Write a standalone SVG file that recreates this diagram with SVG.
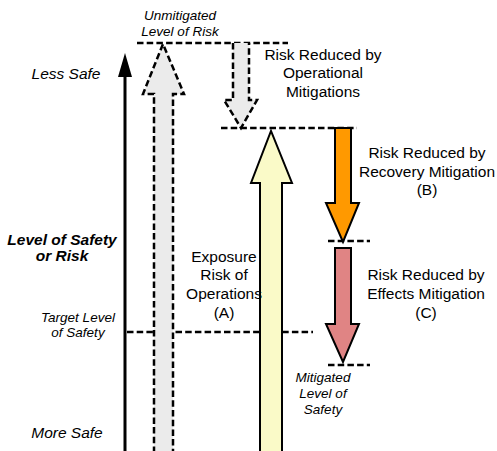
<svg xmlns="http://www.w3.org/2000/svg" width="497" height="451" viewBox="0 0 497 451">
<style>
text{font-family:"Liberation Sans",Arial,sans-serif;fill:#000;text-anchor:middle}
.lbl{font-size:15.5px}
.it{font-style:italic;font-size:13.5px}
.itl{font-style:italic;font-size:15.5px}
.bi{font-style:italic;font-weight:bold;font-size:15.5px}
.dash{stroke:#000;stroke-width:2.5;stroke-dasharray:6.5 3.2;fill:none}
.darr{stroke:#000;stroke-width:2.5;stroke-dasharray:6.5 3.2;fill:#ebebeb}
.sarr{stroke:#000;stroke-width:2;stroke-linejoin:miter}
</style>
<rect width="497" height="451" fill="#fff"/>
<g id="connectors">
<line class="dash" x1="137" y1="43" x2="288" y2="43"/>
<line class="dash" x1="221" y1="128" x2="357" y2="128"/>
<line class="dash" x1="328" y1="241" x2="370" y2="241"/>
<line class="dash" x1="328" y1="365" x2="370" y2="365"/>
<line class="dash" x1="127" y1="332" x2="313" y2="332"/>
</g>
<g id="axis">
<line x1="125" y1="76" x2="125" y2="451" stroke="#000" stroke-width="3"/>
<polygon points="118,77 125,53 132,77" fill="#000"/>
</g>
<g id="unmitigated-arrow">
<path class="darr" d="M154,453 L154,94 L143,94 L163,44 L184,94 L173,94 L173,453"/>
</g>
<g id="operational-arrow">
<path class="darr" d="M233,43 L233,100 L224,100 L241,128 L257,100 L249,100 L249,43"/>
</g>
<g id="exposure-arrow">
<path class="sarr" fill="#fafac8" d="M260,453 L260,183 L251,183 L271,131 L292,183 L282,183 L282,453"/>
</g>
<g id="recovery-arrow">
<path class="sarr" fill="#ff9900" d="M335,128 L335,203 L326,203 L343,242 L359,203 L351,203 L351,128 Z"/>
</g>
<g id="effects-arrow">
<path class="sarr" fill="#e08484" d="M335,248 L335,324 L326,324 L343,362 L359,324 L351,324 L351,248 Z"/>
</g>
<g id="labels">
<text class="it" x="180" y="20">Unmitigated</text>
<text class="it" x="180" y="36">Level of Risk</text>
<text class="itl" x="66" y="79">Less Safe</text>
<text class="itl" x="67" y="438">More Safe</text>
<text class="bi" x="62" y="245">Level of Safety</text>
<text class="bi" x="62" y="261">or Risk</text>
<text class="it" x="78" y="322">Target Level</text>
<text class="it" x="78" y="337">of Safety</text>
<text class="lbl" x="323" y="60">Risk Reduced by</text>
<text class="lbl" x="323" y="78">Operational</text>
<text class="lbl" x="323" y="97">Mitigations</text>
<text class="lbl" x="427" y="158">Risk Reduced by</text>
<text class="lbl" x="427" y="177">Recovery Mitigation</text>
<text class="lbl" x="427" y="195">(B)</text>
<text class="lbl" x="426" y="280">Risk Reduced by</text>
<text class="lbl" x="426" y="299">Effects Mitigation</text>
<text class="lbl" x="426" y="318">(C)</text>
<text class="lbl" x="224" y="262">Exposure</text>
<text class="lbl" x="224" y="280">Risk of</text>
<text class="lbl" x="224" y="299">Operations</text>
<text class="lbl" x="224" y="318">(A)</text>
<text class="it" x="323" y="382">Mitigated</text>
<text class="it" x="323" y="398">Level of</text>
<text class="it" x="323" y="414">Safety</text>
</g>
</svg>
